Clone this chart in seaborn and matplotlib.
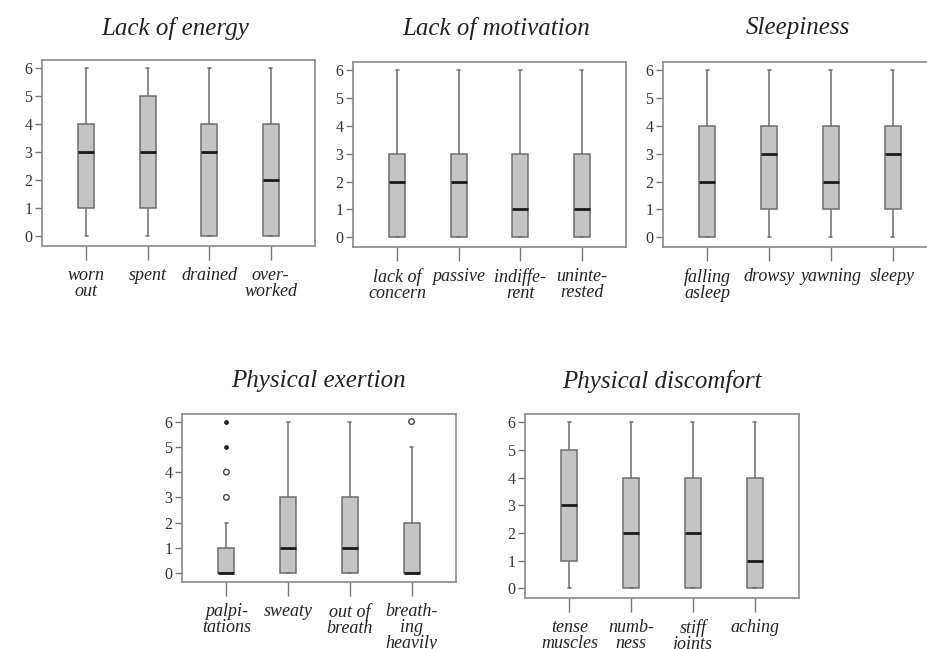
import pandas as pd
import matplotlib.pyplot as plt
import seaborn as sns

# five-number summaries per item: [min whisker, Q1, median, Q3, max whisker]
energy_items = ["worn\nout", "spent", "drained", "over-\nworked"]
energy_stats = [[0, 1, 3, 4, 6], [0, 1, 3, 5, 6], [0, 0, 3, 4, 6], [0, 0, 2, 4, 6]]

motivation_items = ["lack of\nconcern", "passive", "indiffe-\nrent", "uninte-\nrested"]
motivation_stats = [[0, 0, 2, 3, 6], [0, 0, 2, 3, 6], [0, 0, 1, 3, 6], [0, 0, 1, 3, 6]]

sleep_items = ["falling\nasleep", "drowsy", "yawning", "sleepy"]
sleep_stats = [[0, 0, 2, 4, 6], [0, 1, 3, 4, 6], [0, 1, 2, 4, 6], [0, 1, 3, 4, 6]]

exertion_items = ["palpi-\ntations", "sweaty", "out of\nbreath", "breath-\ning\nheavily"]
exertion_stats = [[0, 0, 0, 1, 2], [0, 0, 1, 3, 6], [0, 0, 1, 3, 6], [0, 0, 0, 2, 5]]
# outliers (circles) and extremes (dots)
exertion_out_items = ["palpi-\ntations", "palpi-\ntations", "breath-\ning\nheavily"]
exertion_out_values = [3, 4, 6]
exertion_ext_items = ["palpi-\ntations", "palpi-\ntations"]
exertion_ext_values = [5, 6]

discomfort_items = ["tense\nmuscles", "numb-\nness", "stiff\njoints", "aching"]
discomfort_stats = [[0, 1, 3, 5, 6], [0, 0, 2, 4, 6], [0, 0, 2, 4, 6], [0, 0, 1, 4, 6]]

titles = ["Lack of energy", "Lack of motivation", "Sleepiness",
          "Physical exertion", "Physical discomfort"]

sns.set_style("white")

W, H = 928, 649
fig = plt.figure(figsize=(W / 100, H / 100), dpi=100)

# axes boxes in pixels: left, top, right, bottom
boxes = [(42, 60, 315, 246), (353, 62, 626, 247), (663, 62, 937, 247),
         (182, 414, 456, 582), (525, 414, 799, 598)]
title_pos = [(175, 28), (496, 28), (798, 28), (318, 381), (662, 381)]

panels = [
    (energy_items, energy_stats, [], [], [], []),
    (motivation_items, motivation_stats, [], [], [], []),
    (sleep_items, sleep_stats, [], [], [], []),
    (exertion_items, exertion_stats, exertion_out_items, exertion_out_values,
     exertion_ext_items, exertion_ext_values),
    (discomfort_items, discomfort_stats, [], [], [], []),
]

edge = "#6e6e6e"
serif = "Liberation Serif"

for i, (items, stats, out_i, out_v, ext_i, ext_v) in enumerate(panels):
    l, t, r, b = boxes[i]
    ax = fig.add_axes([l / W, 1 - b / H, (r - l) / W, (b - t) / H])

    df = pd.DataFrame({
        "item": [it for it, s in zip(items, stats) for _ in s],
        "score": [v for s in stats for v in s],
    })
    sns.boxplot(data=df, x="item", y="score", order=items, ax=ax,
                whis=(0, 100), width=0.26, color="#c4c4c4", showfliers=False,
                linecolor=edge, linewidth=1.1, capwidths=0.05,
                medianprops=dict(color="#1a1a1a", linewidth=2))

    if out_i:
        ax.scatter([items.index(x) for x in out_i], out_v, s=16,
                   facecolors="none", edgecolors="#444444", linewidths=1, zorder=5)
    if ext_i:
        ax.scatter([items.index(x) for x in ext_i], ext_v, s=6,
                   color="#222222", zorder=5)

    ax.set_xlim(-0.72, 3.72)
    ax.set_ylim(-0.35, 6.3)
    ax.set_yticks(range(7))
    ax.set_xlabel("")
    ax.set_ylabel("")
    for sp in ax.spines.values():
        sp.set_visible(True)
        sp.set_color("#8a8a8a")
        sp.set_linewidth(1.2)
    ax.tick_params(axis="y", left=True, length=5, width=1, color="#777777",
                   pad=2, labelsize=11.5, labelcolor="#333333")
    ax.tick_params(axis="x", bottom=True, length=10, width=1, color="#777777",
                   pad=5)
    for lab in ax.get_yticklabels():
        lab.set_family(serif)
    ax.set_xticks(range(len(items)))
    ax.set_xticklabels(items, family=serif, style="italic", fontsize=13,
                       color="#222222", linespacing=0.92, va="top")

    tx, ty = title_pos[i]
    fig.text(tx / W, 1 - ty / H, titles[i], family=serif, style="italic",
             fontsize=18, ha="center", va="center", color="#222222")

plt.savefig("out.png", dpi=100)
